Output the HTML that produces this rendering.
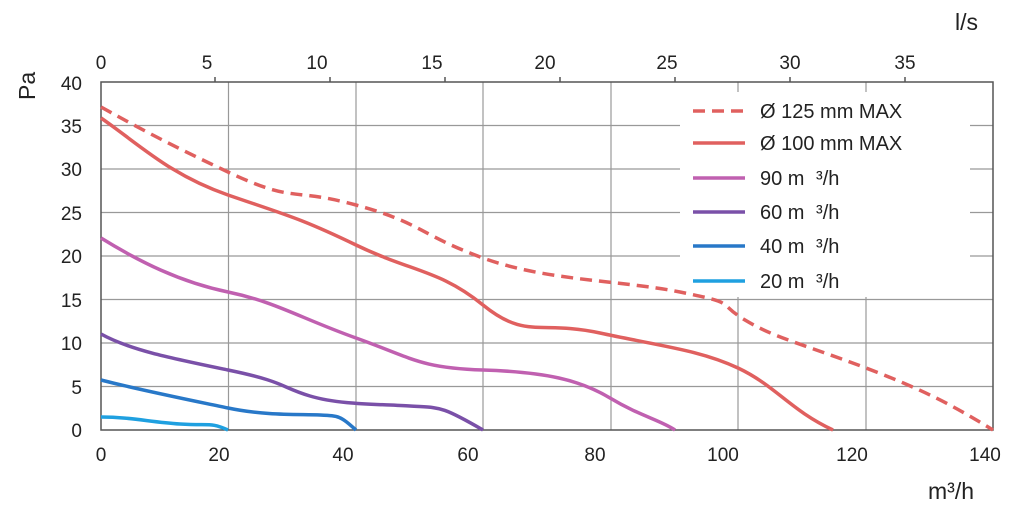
<!DOCTYPE html>
<html><head><meta charset="utf-8"><style>
body{margin:0;background:#fff;}
svg{display:block;font-family:"Liberation Sans",sans-serif;}
</style></head><body>
<svg width="1020" height="511" viewBox="0 0 1020 511">
<g stroke="#999" stroke-width="1.2" fill="none">
<path d="M101 125.5H993M101 169H993M101 212.5H993M101 256H993M101 299.5H993M101 343H993M101 386.5H993"/>
<path d="M228.5 82V430M356 82V430M483 82V430M611 82V430M738 82V430M866 82V430"/>
</g>
<g stroke="#555" stroke-width="1.5" fill="none">
<path d="M101 82H993V430H101Z"/>
<path d="M215 82v-5M330 82v-5M445 82v-5M560 82v-5M675 82v-5M790 82v-5M905 82v-5"/>
</g>
<rect x="680" y="92" width="290" height="205" fill="#fff"/>
<g fill="none" stroke-width="3.5" stroke-linecap="butt">
<path d="M101 107 C130 123,160 140,228 172 S290 187,356 205 S420 235,483 258 S620 280,680 292 S715 302,745 320 S800 343,866 368 S960 410,993 430" stroke="#e0605f" stroke-dasharray="12,7"/>
<path d="M101 118 C140 145,170 175,228 195 S300 218,356 245 S440 270,483 305 S540 320,600 333 S700 350,738 368 S790 410,833 430" stroke="#e0605f"/>
<path d="M101 238 C140 262,180 282,228 292 S300 318,356 338 S420 368,483 370 S580 380,610 398 S660 420,675 430" stroke="#c060b0"/>
<path d="M101 334 C130 350,170 358,228 370 S280 387,310 396 S380 404,410 406 S440 405,483 430" stroke="#7a50a8"/>
<path d="M101 380 C140 390,190 400,228 408 S300 414,320 415 S340 416,356 430" stroke="#2878c8"/>
<path d="M101 417 C130 417,150 422,180 424 S210 422,228 430" stroke="#1fa0e0"/>
</g>
<g stroke-width="3.5">
<line x1="693" y1="111" x2="745" y2="111" stroke="#e0605f" stroke-dasharray="12,7"/>
<line x1="693" y1="143" x2="745" y2="143" stroke="#e0605f"/>
<line x1="693" y1="178" x2="745" y2="178" stroke="#c060b0"/>
<line x1="693" y1="212" x2="745" y2="212" stroke="#7a50a8"/>
<line x1="693" y1="246" x2="745" y2="246" stroke="#2878c8"/>
<line x1="693" y1="281" x2="745" y2="281" stroke="#1fa0e0"/>
</g>
<g font-size="20" fill="#222">
<text x="760" y="118">Ø 125 mm MAX</text>
<text x="760" y="150">Ø 100 mm MAX</text>
<text x="760" y="185">90 m <tspan dx="6">³/h</tspan></text>
<text x="760" y="219">60 m <tspan dx="6">³/h</tspan></text>
<text x="760" y="253">40 m <tspan dx="6">³/h</tspan></text>
<text x="760" y="288">20 m <tspan dx="6">³/h</tspan></text>
</g>
<g font-size="19" fill="#222" text-anchor="end">
<text x="82" y="90">40</text><text x="82" y="133">35</text><text x="82" y="176">30</text>
<text x="82" y="220">25</text><text x="82" y="263">20</text><text x="82" y="307">15</text>
<text x="82" y="350">10</text><text x="82" y="394">5</text><text x="82" y="437">0</text>
</g>
<g font-size="19" fill="#222" text-anchor="middle">
<text x="101" y="461">0</text><text x="219" y="461">20</text><text x="343" y="461">40</text>
<text x="468" y="461">60</text><text x="595" y="461">80</text><text x="723" y="461">100</text>
<text x="852" y="461">120</text><text x="985" y="461">140</text>
<text x="101" y="69">0</text><text x="207" y="69">5</text><text x="317" y="69">10</text>
<text x="432" y="69">15</text><text x="545" y="69">20</text><text x="667" y="69">25</text>
<text x="790" y="69">30</text><text x="905" y="69">35</text>
</g>
<text x="955" y="30" font-size="23" fill="#222">l/s</text>
<text x="928" y="499" font-size="23" fill="#222">m³/h</text>
<text transform="translate(35,100) rotate(-90)" font-size="23" fill="#222">Pa</text>
</svg>
</body></html>
